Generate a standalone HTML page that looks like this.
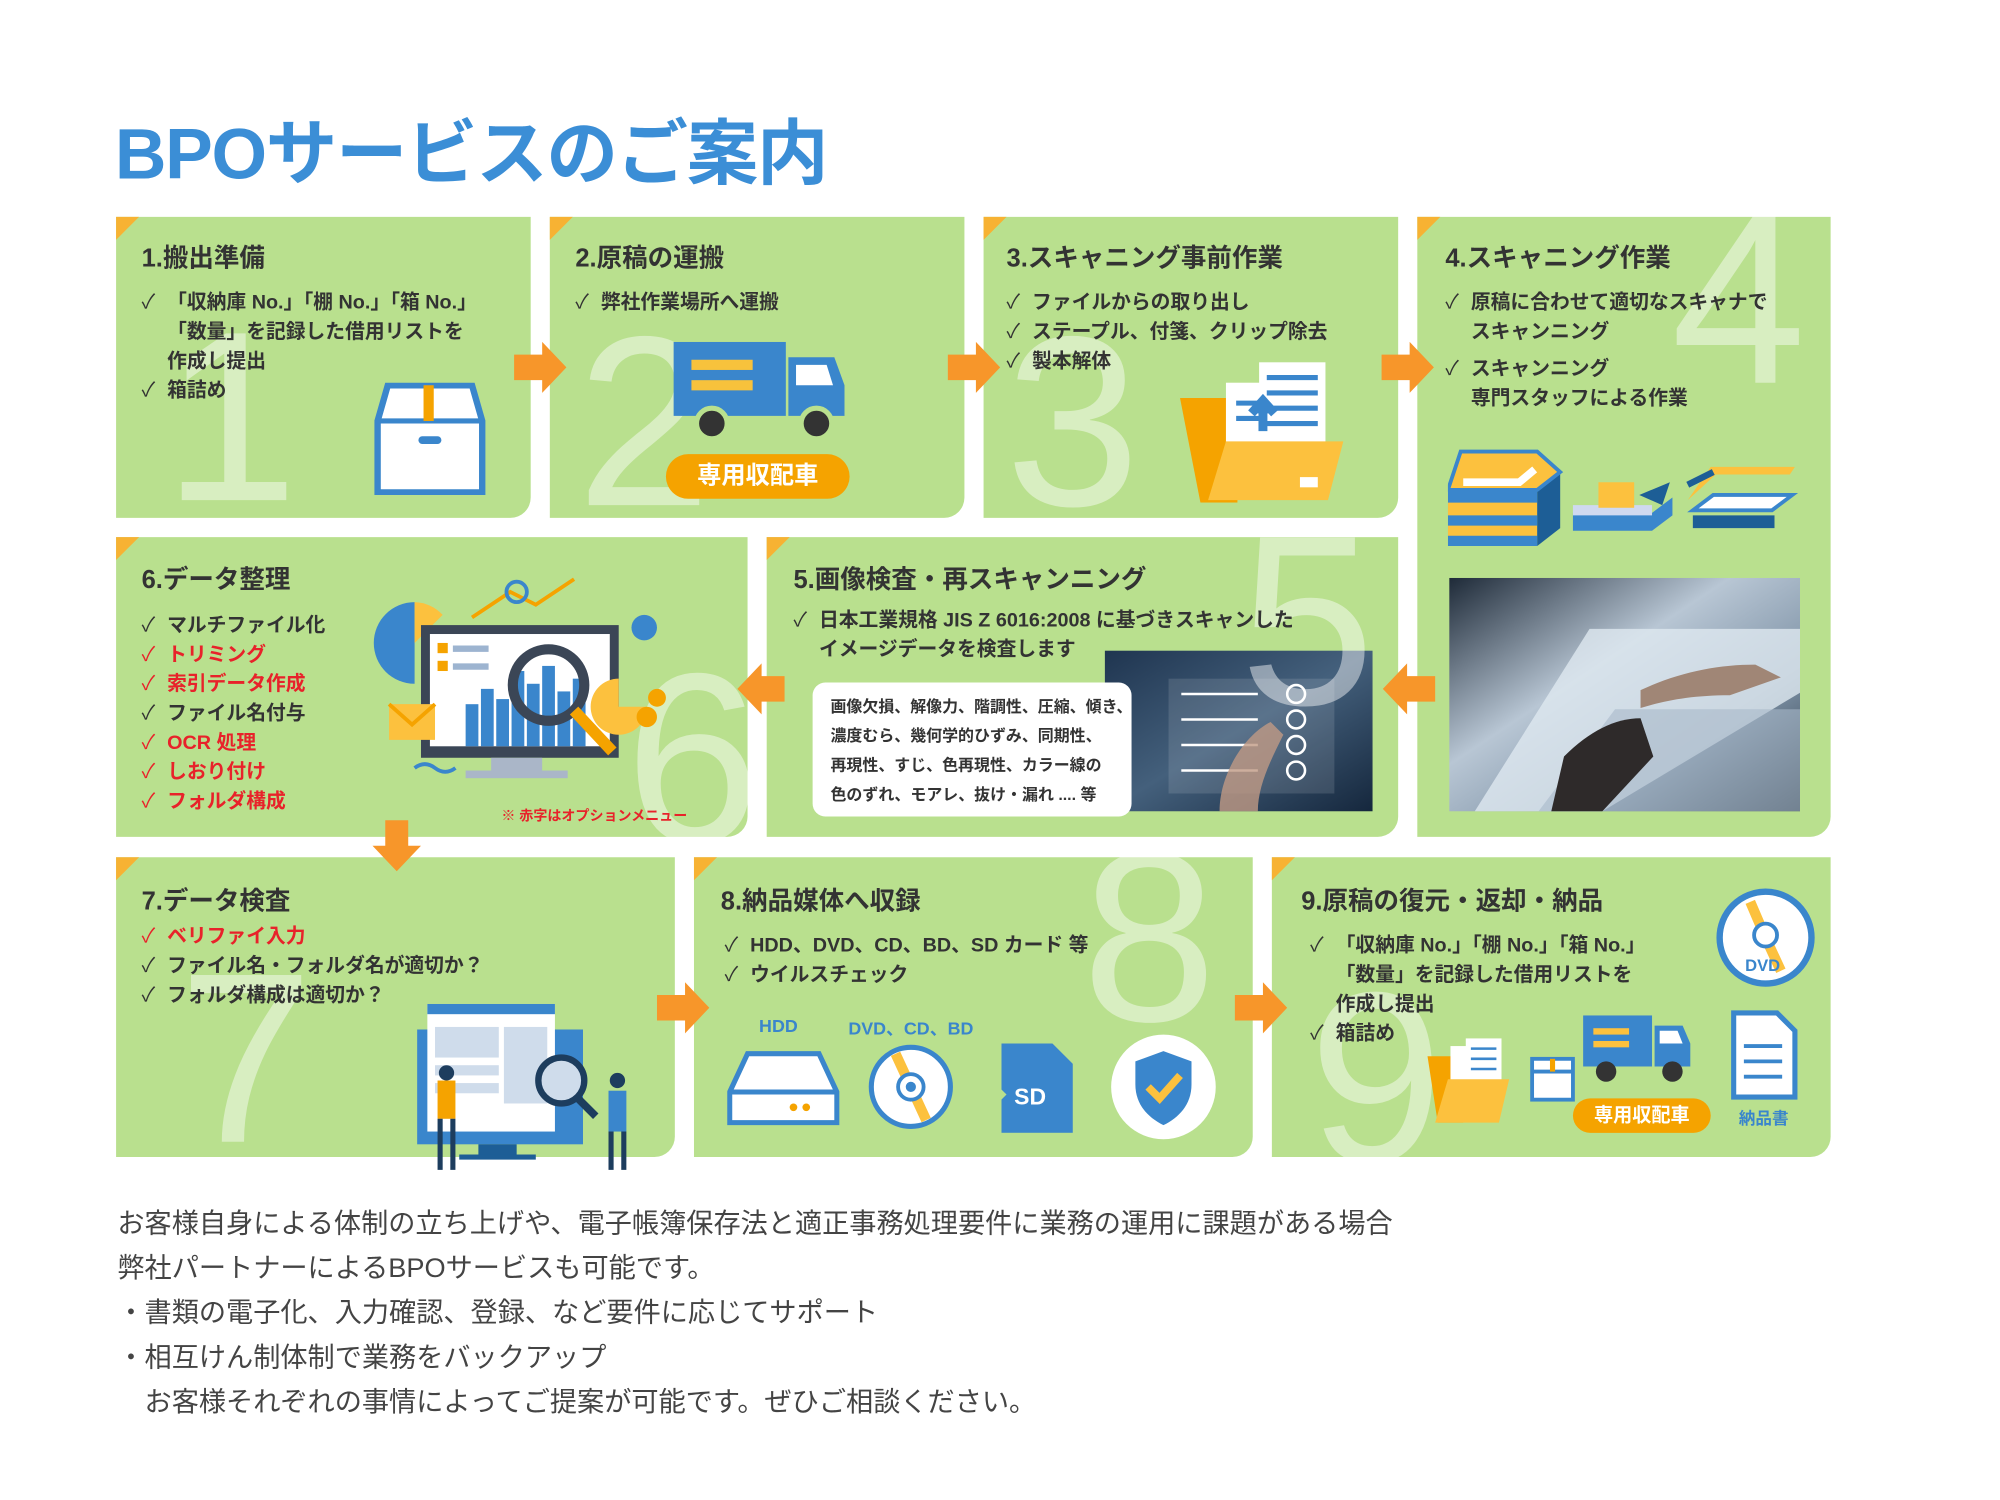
<!DOCTYPE html>
<html><head><meta charset="utf-8"><style>
*{margin:0;padding:0;box-sizing:border-box}
html,body{width:2000px;height:1500px;background:#fff;overflow:hidden}
#s{position:absolute;left:0;top:0;width:1547px;height:1160px;transform:scale(1.2757);transform-origin:0 0;font-family:"Liberation Sans","Noto Sans CJK JP",sans-serif}
.a{position:absolute}
.card{position:absolute;background:#b9e08e;border-bottom-right-radius:16px;overflow:visible}
.card:before{content:"";position:absolute;left:0;top:0;width:0;height:0;border-top:18px solid #f7b233;border-right:18px solid transparent}
.num{position:absolute;font-family:"Liberation Sans",sans-serif;font-size:190px;line-height:1;color:rgba(255,255,255,.45);font-weight:400}
.t{position:absolute;font-weight:700;font-size:20px;color:#333;white-space:nowrap;font-family:"Liberation Sans","Noto Sans CJK JP",sans-serif}
.li{position:absolute;font-weight:700;font-size:15.5px;color:#333;line-height:23px;white-space:nowrap;font-family:"Liberation Sans","Noto Sans CJK JP",sans-serif}
.li .r{color:#e8222a}
.c{display:inline-block;width:20px;font-weight:400}
.ind{padding-left:20px}
.pill{position:absolute;background:#f5a300;color:#fff;font-weight:700;border-radius:20px;text-align:center;font-family:"Liberation Sans","Noto Sans CJK JP",sans-serif}
.foot{position:absolute;left:92px;font-size:21.3px;color:#444;white-space:nowrap;font-family:"Liberation Sans","Noto Sans CJK JP",sans-serif}
</style></head><body><div id="s">

<div class="a" style="left:90px;top:76px;font-size:56px;font-weight:700;color:#3b8ed6;white-space:nowrap;letter-spacing:-1px">BPOサービスのご案内</div>

<!-- Card 1 -->
<div class="card" style="left:91px;top:170px;width:325px;height:236px"></div>
<div class="num" style="left:128px;top:232px">1</div>
<div class="t" style="left:111px;top:186px">1.搬出準備</div>
<div class="li" style="left:111px;top:226px"><span class="c">✓</span>「収納庫 No.」「棚 No.」「箱 No.」<br><span class="ind">「数量」を記録した借用リストを</span><br><span class="ind">作成し提出</span><br><span class="c">✓</span>箱詰め</div>
<svg class="a" style="left:292px;top:300px" width="90" height="88" viewBox="0 0 90 88"><path d="M12 2h66l8 28v56H4V30z" fill="#fff" stroke="#3a86cc" stroke-width="5"/><path d="M4 30h82" stroke="#3a86cc" stroke-width="4"/><rect x="40" y="2" width="8" height="28" fill="#f5a300"/><rect x="36" y="42" width="18" height="6" rx="3" fill="#3a86cc"/></svg>

<!-- Card 2 -->
<div class="card" style="left:431px;top:170px;width:325px;height:236px"></div>
<div class="num" style="left:452px;top:236px">2</div>
<div class="t" style="left:451px;top:186px">2.原稿の運搬</div>
<div class="li" style="left:451px;top:226px"><span class="c">✓</span>弊社作業場所へ運搬</div>
<svg class="a" style="left:528px;top:268px" width="134" height="80" viewBox="0 0 134 80"><rect x="0" y="0" width="88" height="58" fill="#3a86cc"/><rect x="14" y="14" width="48" height="8" fill="#f7c23c"/><rect x="14" y="30" width="48" height="8" fill="#f7c23c"/><path d="M90 12h36l8 22v24H90z" fill="#3a86cc"/><path d="M96 18h24l5 16H96z" fill="#fff"/><circle cx="30" cy="64" r="12" fill="#333" stroke="#b9e08e" stroke-width="4"/><circle cx="112" cy="64" r="12" fill="#333" stroke="#b9e08e" stroke-width="4"/></svg>
<div class="pill" style="left:522px;top:356px;width:144px;height:35px;font-size:19px;line-height:35px">専用収配車</div>

<!-- Card 3 -->
<div class="card" style="left:771px;top:170px;width:325px;height:236px"></div>
<div class="num" style="left:788px;top:236px">3</div>
<div class="t" style="left:789px;top:186px">3.スキャニング事前作業</div>
<div class="li" style="left:789px;top:226px"><span class="c">✓</span>ファイルからの取り出し<br><span class="c">✓</span>ステープル、付箋、クリップ除去<br><span class="c">✓</span>製本解体</div>
<svg class="a" style="left:925px;top:282px" width="130" height="112" viewBox="0 0 130 112"><path d="M0 30h40l5 8v74H16z" fill="#f5a300"/><rect x="36" y="18" width="50" height="70" fill="#fff"/><rect x="62" y="2" width="52" height="80" fill="#fff"/><g stroke="#3a86cc" stroke-width="4"><path d="M68 14h40M68 26h40M68 38h40M68 50h40M44 34h20M44 46h20"/></g><path d="M65 56v-22M56 42l9-10 9 10" stroke="#3a86cc" stroke-width="7" fill="#3a86cc"/><path d="M36 64h92l-12 46H22z" fill="#fcc13e"/><rect x="94" y="92" width="14" height="8" fill="#fff"/></svg>

<!-- Card 4 -->
<div class="card" style="left:1111px;top:170px;width:324px;height:486px"></div>
<div class="num" style="left:1310px;top:140px">4</div>
<div class="t" style="left:1133px;top:186px">4.スキャニング作業</div>
<div class="li" style="left:1133px;top:226px"><span class="c">✓</span>原稿に合わせて適切なスキャナで<br><span class="ind">スキャンニング</span><br><span class="c" style="margin-top:6px;display:inline-block">✓</span>スキャンニング<br><span class="ind">専門スタッフによる作業</span></div>
<svg class="a" style="left:1135px;top:352px" width="275" height="80" viewBox="0 0 275 80"><path d="M0 32h70v44H0z" fill="#3a86cc"/><path d="M0 42h70v10H0zM0 60h70v8H0z" fill="#fcc13e"/><path d="M70 32l18-14v44l-18 14z" fill="#1d5e96"/><path d="M10 2h60l18 16-18 14H0z" fill="#fcc13e" stroke="#3a86cc" stroke-width="3"/><path d="M12 26h44l12-10" stroke="#fff" stroke-width="6" fill="none"/><path d="M98 50h62l16-12v14l-16 12H98z" fill="#3a86cc"/><path d="M98 44h62v8H98z" fill="#cfd9f0"/><path d="M118 26h28v20h-28z" fill="#fcc13e"/><path d="M150 36l24-10-6 18z" fill="#1d5e96"/><path d="M188 40l18-26h66l-4 6h-58z" fill="#fcc13e"/><path d="M192 48h62l16-12H208z" fill="#fff" stroke="#3a86cc" stroke-width="3"/><path d="M192 52h64v10h-64z" fill="#1d5e96"/><path d="M188 28l20-10" stroke="#1d5e96" stroke-width="5"/></svg>
<svg class="a" style="left:1136px;top:453px" width="275" height="183" viewBox="0 0 275 183"><defs><linearGradient id="g1" x1="0" y1="0" x2="1" y2="1"><stop offset="0" stop-color="#1e2a38"/><stop offset=".4" stop-color="#b8c6d4"/><stop offset=".7" stop-color="#7e92a6"/><stop offset="1" stop-color="#22303e"/></linearGradient></defs><rect width="275" height="183" fill="url(#g1)"/><path d="M20 183L110 40h165v50L120 183z" fill="#dfe8f0" opacity=".8"/><path d="M70 183l60-80h145v80z" fill="#a8b9c9" opacity=".6"/><path d="M150 88c30-14 60-20 90-20l20 10-40 14c-30 0-50 4-70 10z" fill="#a08676"/><path d="M90 140c20-20 40-30 60-30l10 30-40 43H80z" fill="#2e2a2a"/></svg>

<!-- Card 6 -->
<div class="card" style="left:91px;top:421px;width:495px;height:235px"></div>
<div class="num" style="left:490px;top:500px">6</div>
<div class="t" style="left:111px;top:438px">6.データ整理</div>
<div class="li" style="left:111px;top:479px"><span class="c">✓</span>マルチファイル化<br><span class="r"><span class="c">✓</span>トリミング</span><br><span class="r"><span class="c">✓</span>索引データ作成</span><br><span class="c">✓</span>ファイル名付与<br><span class="r"><span class="c">✓</span>OCR 処理</span><br><span class="r"><span class="c">✓</span>しおり付け</span><br><span class="r"><span class="c">✓</span>フォルダ構成</span></div>
<svg class="a" style="left:285px;top:452px" width="265" height="165" viewBox="0 0 265 165"><path d="M40 20a32 32 0 1 0 0 64z" fill="#3a86cc"/><path d="M40 20a32 32 0 0 1 22 10L40 52z" fill="#fcc13e"/><rect x="45" y="38" width="155" height="104" fill="#3b4656"/><rect x="52" y="45" width="141" height="88" fill="#fff"/><g fill="#3a86cc"><rect x="80" y="100" width="10" height="33"/><rect x="92" y="88" width="10" height="45"/><rect x="104" y="96" width="10" height="37"/><rect x="116" y="74" width="10" height="59"/><rect x="128" y="84" width="10" height="49"/><rect x="140" y="70" width="10" height="63"/><rect x="152" y="90" width="10" height="43"/><rect x="164" y="80" width="10" height="53"/></g><rect x="58" y="52" width="8" height="8" fill="#f5a300"/><rect x="58" y="66" width="8" height="8" fill="#f5a300"/><rect x="70" y="54" width="28" height="5" fill="#9db4d0"/><rect x="70" y="68" width="28" height="5" fill="#9db4d0"/><circle cx="145" cy="85" r="28" fill="none" stroke="#3b4656" stroke-width="8"/><path d="M165 105l30 32" stroke="#f5a300" stroke-width="9"/><rect x="100" y="142" width="40" height="12" fill="#aab6c8"/><rect x="80" y="152" width="80" height="6" fill="#aab6c8"/><path d="M20 100h36v28H20z" fill="#fcc13e"/><path d="M20 100l18 16 18-16" stroke="#f5a300" stroke-width="3" fill="none"/><path d="M200 80a22 22 0 1 0 22 22h-22z" fill="#fcc13e"/><circle cx="222" cy="110" r="8" fill="#f5a300"/><circle cx="230" cy="95" r="7" fill="#f5a300"/><circle cx="220" cy="40" r="10" fill="#3a86cc"/><path d="M85 32l30-20 20 10 30-20" stroke="#f5a300" stroke-width="3" fill="none"/><circle cx="120" cy="12" r="8" fill="none" stroke="#3a86cc" stroke-width="3"/><path d="M40 150q8-6 16 0t16 0" stroke="#3a86cc" stroke-width="3" fill="none"/></svg>
<div class="a" style="left:393px;top:631px;font-size:11px;color:#e8222a;font-weight:700;white-space:nowrap">※ 赤字はオプションメニュー</div>

<!-- Card 5 -->
<div class="card" style="left:601px;top:421px;width:495px;height:235px"></div>
<svg class="a" style="left:866px;top:510px" width="210" height="126" viewBox="0 0 210 126"><defs><linearGradient id="g2" x1="0" y1="0" x2="1" y2="1"><stop offset="0" stop-color="#1f3550"/><stop offset=".5" stop-color="#44607c"/><stop offset="1" stop-color="#15273d"/></linearGradient></defs><rect width="210" height="126" fill="url(#g2)"/><rect x="50" y="22" width="130" height="90" fill="#fff" opacity=".12"/><g stroke="#fff" stroke-width="2"><path d="M60 34h60M60 54h60M60 74h60M60 94h60"/></g><g fill="none" stroke="#fff" stroke-width="2"><circle cx="150" cy="34" r="7"/><circle cx="150" cy="54" r="7"/><circle cx="150" cy="74" r="7"/><circle cx="150" cy="94" r="7"/></g><path d="M90 126c0-30 20-60 40-70l10 10c-10 20-20 40-20 60z" fill="#c09a84" opacity=".8"/></svg>
<div class="num" style="left:972px;top:392px">5</div>
<div class="t" style="left:622px;top:438px">5.画像検査・再スキャンニング</div>
<div class="li" style="left:622px;top:475px"><span class="c">✓</span>日本工業規格 JIS Z 6016:2008 に基づきスキャンした<br><span class="ind">イメージデータを検査します</span></div>
<div class="a" style="left:637px;top:535px;width:250px;height:105px;background:#fff;border-radius:10px"></div>
<div class="a" style="left:651px;top:543px;font-size:12.5px;font-weight:700;color:#333;line-height:23px;white-space:nowrap">画像欠損、解像力、階調性、圧縮、傾き、<br>濃度むら、幾何学的ひずみ、同期性、<br>再現性、すじ、色再現性、カラー線の<br>色のずれ、モアレ、抜け・漏れ .... 等</div>

<!-- Card 7 -->
<div class="card" style="left:91px;top:672px;width:438px;height:235px"></div>
<div class="num" style="left:140px;top:735px">7</div>
<div class="t" style="left:111px;top:690px">7.データ検査</div>
<div class="li" style="left:111px;top:723px"><span class="r"><span class="c">✓</span>ベリファイ入力</span><br><span class="c">✓</span>ファイル名・フォルダ名が適切か？<br><span class="c">✓</span>フォルダ構成は適切か？</div>
<svg class="a" style="left:325px;top:785px" width="180" height="135" viewBox="0 0 180 135"><rect x="2" y="22" width="130" height="90" fill="#3a86cc"/><rect x="10" y="2" width="100" height="100" fill="#fff"/><rect x="10" y="2" width="100" height="8" fill="#3a86cc"/><g fill="#cfdceb"><rect x="16" y="20" width="50" height="24"/><rect x="70" y="20" width="34" height="60"/><rect x="16" y="50" width="50" height="8"/><rect x="16" y="64" width="50" height="8"/></g><rect x="50" y="112" width="30" height="10" fill="#1d5e96"/><rect x="35" y="120" width="60" height="4" fill="#1d5e96"/><circle cx="115" cy="62" r="18" fill="#cfdceb" stroke="#1d3d5e" stroke-width="5"/><path d="M128 76l14 14" stroke="#1d3d5e" stroke-width="6"/><rect x="18" y="62" width="14" height="30" fill="#f5a300"/><path d="M20 92v40M30 92v40" stroke="#1d3d5e" stroke-width="4"/><circle cx="25" cy="56" r="6" fill="#1d3d5e"/><rect x="152" y="70" width="14" height="32" fill="#3a86cc"/><path d="M154 102v30M164 102v30" stroke="#1d3d5e" stroke-width="4"/><circle cx="159" cy="62" r="6" fill="#1d3d5e"/></svg>

<!-- Card 8 -->
<div class="card" style="left:544px;top:672px;width:438px;height:235px"></div>
<div class="num" style="left:848px;top:640px">8</div>
<div class="t" style="left:565px;top:690px">8.納品媒体へ収録</div>
<div class="li" style="left:568px;top:730px"><span class="c">✓</span>HDD、DVD、CD、BD、SD カード 等<br><span class="c">✓</span>ウイルスチェック</div>
<div class="a" style="left:595px;top:796px;font-size:14px;font-weight:700;color:#3a86cc">HDD</div>
<div class="a" style="left:665px;top:796px;font-size:14px;font-weight:700;color:#3a86cc;white-space:nowrap">DVD、CD、BD</div>
<svg class="a" style="left:570px;top:822px" width="88" height="62" viewBox="0 0 88 62"><path d="M16 4h56l14 30v24H2V34z" fill="#fff" stroke="#3a86cc" stroke-width="4"/><path d="M2 34h84" stroke="#3a86cc" stroke-width="4"/><circle cx="52" cy="46" r="3" fill="#f5a300"/><circle cx="62" cy="46" r="3" fill="#f5a300"/></svg>
<svg class="a" style="left:680px;top:818px" width="68" height="68" viewBox="0 0 68 68"><circle cx="34" cy="34" r="31" fill="#fff" stroke="#3a86cc" stroke-width="4"/><path d="M34 34L22 8M34 34L46 60" stroke="#fcc13e" stroke-width="8"/><circle cx="34" cy="34" r="10" fill="#fff" stroke="#3a86cc" stroke-width="3"/><circle cx="34" cy="34" r="4" fill="#3a86cc"/></svg>
<svg class="a" style="left:785px;top:818px" width="56" height="70" viewBox="0 0 56 70"><path d="M0 0h40l16 16v54H0V44l4-4-4-4z" fill="#3a86cc"/><text x="10" y="48" font-family="Liberation Sans,sans-serif" font-weight="700" font-size="18" fill="#fff">SD</text></svg>
<svg class="a" style="left:870px;top:810px" width="84" height="84" viewBox="0 0 84 84"><circle cx="42" cy="42" r="41" fill="#fff"/><path d="M42 14l22 8v18c0 16-10 26-22 32-12-6-22-16-22-32V22z" fill="#3a86cc"/><path d="M30 42l9 9 16-18" stroke="#fcc13e" stroke-width="6" fill="none"/></svg>

<!-- Card 9 -->
<div class="card" style="left:997px;top:672px;width:438px;height:235px"></div>
<div class="num" style="left:1026px;top:750px">9</div>
<div class="t" style="left:1020px;top:690px">9.原稿の復元・返却・納品</div>
<div class="li" style="left:1027px;top:730px"><span class="c">✓</span>「収納庫 No.」「棚 No.」「箱 No.」<br><span class="ind">「数量」を記録した借用リストを</span><br><span class="ind">作成し提出</span><br><span class="c">✓</span>箱詰め</div>
<svg class="a" style="left:1344px;top:695px" width="80" height="80" viewBox="0 0 80 80"><circle cx="40" cy="40" r="36" fill="#fff" stroke="#3a86cc" stroke-width="5"/><path d="M40 40L28 12M40 40L52 66" stroke="#fcc13e" stroke-width="8"/><circle cx="40" cy="38" r="9" fill="#fff" stroke="#3a86cc" stroke-width="3"/><text x="24" y="66" font-family="Liberation Sans,sans-serif" font-weight="700" font-size="13" fill="#3a86cc">DVD</text></svg>
<svg class="a" style="left:1115px;top:790px" width="300" height="95" viewBox="0 0 300 95"><path d="M4 38h24l4 6v46H12z" fill="#f5a300"/><rect x="22" y="30" width="28" height="40" fill="#fff"/><rect x="34" y="24" width="28" height="42" fill="#fff"/><g stroke="#3a86cc" stroke-width="2"><path d="M38 32h20M38 40h20M38 48h20"/></g><path d="M20 56h48l-8 34H10z" fill="#fcc13e"/><rect x="86" y="40" width="32" height="32" fill="#fff" stroke="#3a86cc" stroke-width="3"/><path d="M86 50h32" stroke="#3a86cc" stroke-width="3"/><rect x="100" y="40" width="4" height="10" fill="#f5a300"/><rect x="126" y="6" width="54" height="40" fill="#3a86cc"/><rect x="134" y="16" width="28" height="5" fill="#fcc13e"/><rect x="134" y="26" width="28" height="5" fill="#fcc13e"/><path d="M182 14h22l6 14v18h-28z" fill="#3a86cc"/><path d="M186 18h14l4 10h-18z" fill="#fff"/><circle cx="144" cy="50" r="8" fill="#333"/><circle cx="196" cy="50" r="8" fill="#333"/><path d="M244 4h34l14 14v52h-48z" fill="#fff" stroke="#3a86cc" stroke-width="4"/><g stroke="#3a86cc" stroke-width="3"><path d="M252 30h30M252 42h30M252 54h30"/></g></svg>
<div class="pill" style="left:1233px;top:861px;width:108px;height:27px;font-size:15px;line-height:27px">専用収配車</div>
<div class="a" style="left:1363px;top:866px;font-size:13px;font-weight:700;color:#3a86cc">納品書</div>

<!-- arrows -->
<svg class="a" style="left:0;top:0" width="1547" height="1160" viewBox="0 0 1547 1160">
<g fill="#f7962a">
<path d="M403 278h22v-10l19 20-19 20v-10h-22z"/>
<path d="M743 278h22v-10l19 20-19 20v-10h-22z"/>
<path d="M1083 278h22v-10l19 20-19 20v-10h-22z"/>
<path d="M1125 530h-22v-10l-19 20 19 20v-10h22z"/>
<path d="M615 530h-18v-10l-19 20 19 20v-10h18z"/>
<path d="M302 643v20h-10l19 20 19-20h-10v-20z"/>
<path d="M515 780h22v-10l19 20-19 20v-10h-22z"/>
<path d="M968 780h22v-10l19 20-19 20v-10h-22z"/>
</g></svg>

<div class="foot" style="top:942px">お客様自身による体制の立ち上げや、電子帳簿保存法と適正事務処理要件に業務の運用に課題がある場合</div>
<div class="foot" style="top:977px">弊社パートナーによるBPOサービスも可能です。</div>
<div class="foot" style="top:1012px">・書類の電子化、入力確認、登録、など要件に応じてサポート</div>
<div class="foot" style="top:1047px">・相互けん制体制で業務をバックアップ</div>
<div class="foot" style="top:1082px">　お客様それぞれの事情によってご提案が可能です。ぜひご相談ください。</div>

</div></body></html>
